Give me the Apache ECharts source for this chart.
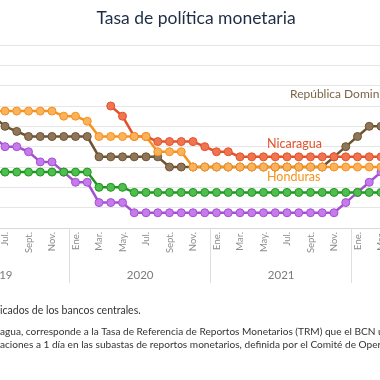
<!DOCTYPE html>
<html>
<head>
<meta charset="utf-8">
<script src="https://cdn.jsdelivr.net/npm/echarts@6/dist/echarts.min.js"></script>
<style>
html,body{margin:0;padding:0;width:380px;height:380px;overflow:hidden;background:#fff;}
#c{position:absolute;left:-100px;top:0;width:500px;height:380px;}
</style>
</head>
<body>
<div id="c"></div>
<script>
// ---- data ----
const monthNames = ['Ene.','Feb.','Mar.','Abr.','May.','Jun.','Jul.','Ago.','Sept.','Oct.','Nov.','Dic.'];
const yearLabels = ['2019','2020','2021'];
// categories: Jan 2019 .. Mar 2022
const categories = [];
for (let y = 2019; y <= 2022; y++) {
  for (let m = 1; m <= 12; m++) {
    if (y === 2022 && m > 3) break;
    categories.push(y + '-' + (m < 10 ? '0' + m : '' + m));
  }
}
// values Jan 2019 .. Mar 2022 (Jan-May 2019 not visible)
const honduras = [null,null,null,null,null,
  5.75,5.75,5.75,5.75,5.75,5.75,5.5,
  5.5,5.25,4.5,4.5,4.5,4.5,4.5,3.75,3.75,3.75,3.0,3.0,
  3.0,3.0,3.0,3.0,3.0,3.0,3.0,3.0,3.0,3.0,3.0,3.0,
  3.0,3.0,3.0];
const repDominicana = [null,null,null,null,null,
  5.5,5.0,4.75,4.5,4.5,4.5,4.5,
  4.5,4.5,3.5,3.5,3.5,3.5,3.5,3.5,3.0,3.0,3.0,3.0,
  3.0,3.0,3.0,3.0,3.0,3.0,3.0,3.0,3.0,3.0,3.5,4.0,
  4.5,5.0,5.0];
const nicaragua = [null,null,null,null,null,
  null,null,null,null,null,null,null,
  null,null,null,6.0,5.5,4.5,4.5,4.25,4.25,4.25,4.25,4.0,
  3.75,3.75,3.5,3.5,3.5,3.5,3.5,3.5,3.5,3.5,3.5,3.5,
  3.5,3.5,3.5];
const guatemala = [null,null,null,null,null,
  2.75,2.75,2.75,2.75,2.75,2.75,2.75,
  2.75,2.75,2.0,2.0,2.0,1.75,1.75,1.75,1.75,1.75,1.75,1.75,
  1.75,1.75,1.75,1.75,1.75,1.75,1.75,1.75,1.75,1.75,1.75,1.75,
  1.75,1.75,1.75];
const costaRica = [null,null,null,null,null,
  4.5,4.0,4.0,3.75,3.25,3.25,2.75,
  2.25,2.25,1.25,1.25,1.25,0.75,0.75,0.75,0.75,0.75,0.75,0.75,
  0.75,0.75,0.75,0.75,0.75,0.75,0.75,0.75,0.75,0.75,0.75,1.25,
  1.75,2.25,2.75];

const OFF = 100; // page offset of the chart container
const FONT = 'Lato, "Noto Sans", sans-serif';

function mkSeries(name, data, line, fill) {
  return {
    name: name, type: 'line', data: data,
    symbol: 'circle', symbolSize: 8, showAllSymbol: true,
    lineStyle: { color: line, width: 2.5 },
    itemStyle: { color: fill, borderColor: line, borderWidth: 1 },
    emphasis: { disabled: true }
  };
}

const chart = echarts.init(document.getElementById('c'), null, { renderer: 'canvas' });
const option = {
  animation: false,
  backgroundColor: '#ffffff',
  grid: { left: 28.625, right: 13.125, top: 45, bottom: 152, containLabel: false },
  xAxis: {
    type: 'category',
    data: categories,
    boundaryGap: true,
    axisLine: { lineStyle: { color: '#d9d9d9', width: 1 } },
    axisTick: {
      show: true,
      interval: function (i) { return i % 12 === 0; },
      length: 55,
      lineStyle: { color: '#dedede', width: 1 }
    },
    axisLabel: {
      interval: function (i) { return i % 2 === 0; },
      rotate: 90,
      margin: 4,
      fontSize: 9.5,
      fontFamily: FONT,
      color: '#8c8c8c',
      formatter: function (v) { return monthNames[parseInt(v.slice(5), 10) - 1]; }
    }
  },
  yAxis: {
    type: 'value', min: 0, max: 9, interval: 1,
    axisLabel: { show: false },
    axisLine: { show: false },
    axisTick: { show: false },
    splitLine: { lineStyle: { color: '#e6e6e6', width: 1 } }
  },
  series: [
    mkSeries('Costa Rica', costaRica, '#a54fd4', '#c57bea'),
    mkSeries('República Dominicana', repDominicana, '#6d5331', '#8f7658'),
    mkSeries('Nicaragua', nicaragua, '#e2532c', '#f0744f'),
    mkSeries('Honduras', honduras, '#f7921c', '#fbb25c'),
    mkSeries('Guatemala', guatemala, '#1e971e', '#4fbd4f')
  ]
};
chart.setOption(option);

// year labels centred on each year's span
const graphics = [];
yearLabels.forEach(function (y) {
  const a = chart.convertToPixel({ xAxisIndex: 0 }, y + '-06');
  const b = chart.convertToPixel({ xAxisIndex: 0 }, y + '-07');
  graphics.push({
    type: 'text', x: (a + b) / 2, y: 275,
    style: { text: y, fontSize: 11.5, fontFamily: FONT, fill: '#7a7a7a', textAlign: 'center', textVerticalAlign: 'middle' }
  });
});
// title
graphics.push({ type: 'text', x: OFF + 196, y: 18,
  style: { text: 'Tasa de política monetaria', fontSize: 17.5, fontFamily: FONT, fill: '#1e2d45', textAlign: 'center', textVerticalAlign: 'middle' } });
// series annotations
graphics.push({ type: 'text', x: OFF + 290, y: 94,
  style: { text: 'República Dominicana', fontSize: 12, fontFamily: FONT, fill: '#7b6548', textAlign: 'left', textVerticalAlign: 'middle' } });
graphics.push({ type: 'text', x: OFF + 267, y: 144,
  style: { text: 'Nicaragua', fontSize: 12.5, fontFamily: FONT, fill: '#e2532c', textAlign: 'left', textVerticalAlign: 'middle' } });
graphics.push({ type: 'text', x: OFF + 267, y: 177,
  style: { text: 'Honduras', fontSize: 12.5, fontFamily: FONT, fill: '#f7921c', textAlign: 'left', textVerticalAlign: 'middle' } });
// footer notes (visible part)
graphics.push({ type: 'text', x: OFF + 0, y: 311,
  style: { text: 'icados de los bancos centrales.', fontSize: 10.5, fontFamily: FONT, fill: '#333333', textAlign: 'left', textVerticalAlign: 'middle' } });
graphics.push({ type: 'text', x: OFF + 0, y: 332,
  style: { text: 'agua, corresponde a la Tasa de Referencia de Reportos Monetarios (TRM) que el BCN utiliza', fontSize: 10.1, fontFamily: FONT, fill: '#333333', textAlign: 'left', textVerticalAlign: 'middle' } });
graphics.push({ type: 'text', x: OFF + 0, y: 345,
  style: { text: 'aciones a 1 día en las subastas de reportos monetarios, definida por el Comité de Operaciones', fontSize: 10.1, fontFamily: FONT, fill: '#333333', textAlign: 'left', textVerticalAlign: 'middle' } });
chart.setOption({ graphic: graphics });
</script>
</body>
</html>
